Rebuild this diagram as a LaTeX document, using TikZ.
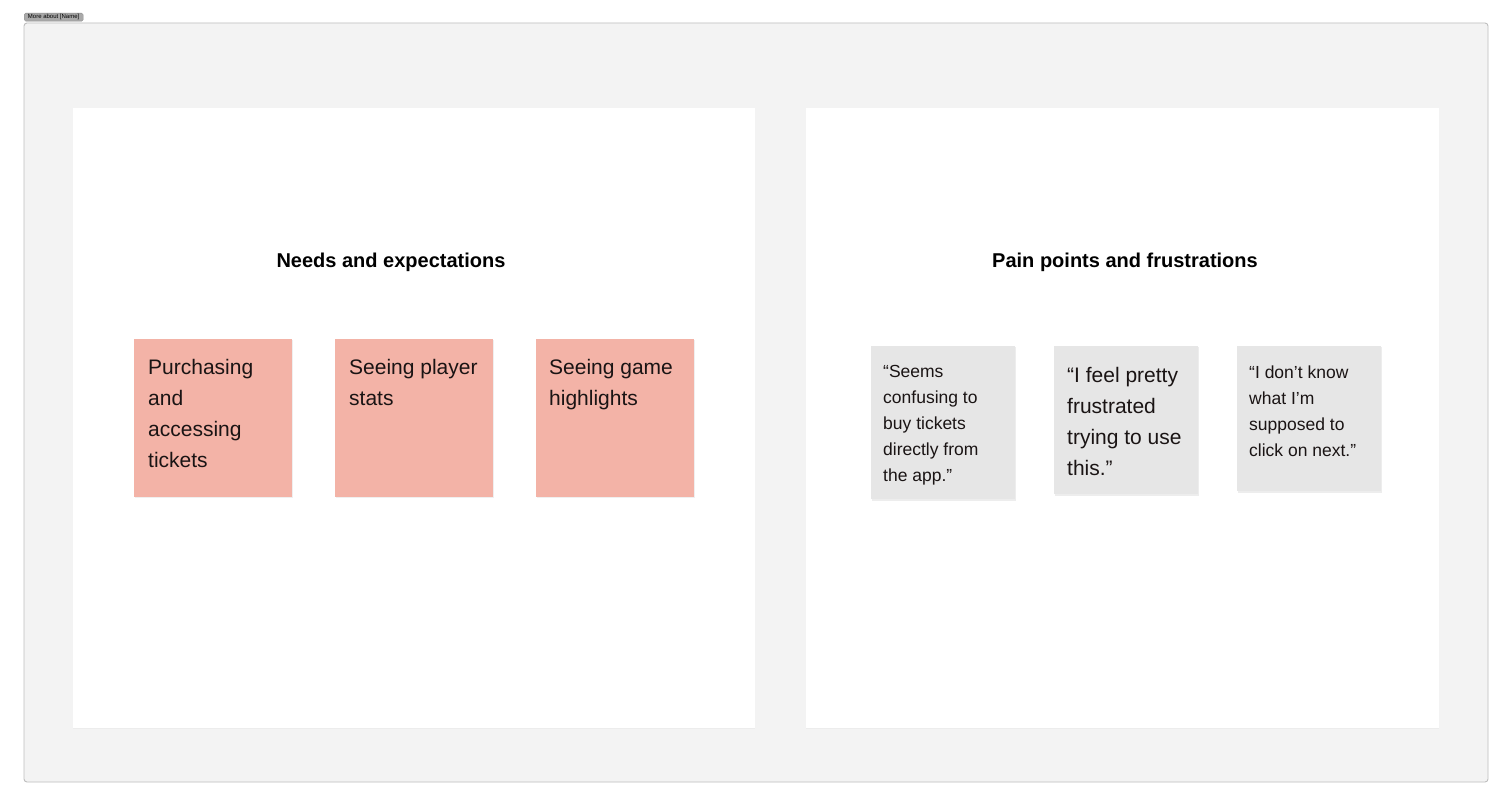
\documentclass[tikz,border=0pt]{standalone}
\usepackage{fontspec}
\setmainfont{Liberation Sans}
\usetikzlibrary{shadows}
\definecolor{bgfill}{HTML}{F3F3F3}
\definecolor{bgline}{HTML}{BEBEBE}
\definecolor{pink}{HTML}{F3B3A7}
\definecolor{greycard}{HTML}{E6E6E6}
\definecolor{tagfill}{HTML}{A9A9A9}
\definecolor{ink}{HTML}{1A1414}
\tikzset{
  frame/.style={draw=bgline, line width=0.9pt, fill=bgfill, rounded corners=3pt},
  panel/.style={fill=white, draw=none, drop shadow={shadow xshift=0pt, shadow yshift=-1pt, opacity=0.06}},
  pinkcard/.style={fill=pink, draw=none, drop shadow={shadow xshift=0.6pt, shadow yshift=-1.2pt, opacity=0.12}},
  greycardst/.style={fill=greycard, draw=none, drop shadow={shadow xshift=0.6pt, shadow yshift=-1.5pt, opacity=0.14}},
  title/.style={font=\fontsize{20}{24}\selectfont\bfseries, text=black, inner sep=0pt},
  bigtext/.style={anchor=north west, inner sep=0pt, align=left, text=ink, font=\fontsize{21}{31}\selectfont},
  smalltext/.style={anchor=north west, inner sep=0pt, align=left, text=ink, font=\fontsize{17.5}{26}\selectfont},
}
\begin{document}
\begin{tikzpicture}[x=1pt,y=-1pt]
\useasboundingbox (0,0) rectangle (1508,810);
\fill[white] (0,0) rectangle (1508,810);
% outer frame
\draw[frame] (24,23) rectangle (1488,782);
% tag
\node[fill=tagfill, rounded corners=1.5pt, draw=black!45, line width=0.3pt, inner sep=0pt, minimum width=59pt, minimum height=8pt, font=\fontsize{6}{7}\selectfont, text=black, anchor=north west] (tag) at (24,13) {More about [Name]};
% panels
\path[panel] (73,108) rectangle (755,728);
\path[panel] (806,108) rectangle (1439,728);
\node[title] (t1) at (391,262) {Needs and expectations};
\node[title] (t2) at (1125,262) {Pain points and frustrations};
% pink cards
\path[pinkcard] (134,339) rectangle (292,497);
\path[pinkcard] (335,339) rectangle (493,497);
\path[pinkcard] (536,339) rectangle (694,497);
\node[bigtext] (p1) at (148,359) {Purchasing\\and\\accessing\\tickets};
\node[bigtext] (p2) at (349,359) {Seeing player\\stats};
\node[bigtext] (p3) at (549,359) {Seeing game\\highlights};
% grey cards
\path[greycardst] (871,346) rectangle (1015,499);
\path[greycardst] (1054,346) rectangle (1198,494);
\path[greycardst] (1237,346) rectangle (1381,491);
\node[smalltext] (g1) at (883,365.5) {“Seems\\confusing to\\buy tickets\\directly from\\the app.”};
\node[bigtext] (g2) at (1067,367) {“I feel pretty\\frustrated\\trying to use\\this.”};
\node[smalltext] (g3) at (1249,365.5) {“I don’t know\\what I’m\\supposed to\\click on next.”};
\end{tikzpicture}
\end{document}
